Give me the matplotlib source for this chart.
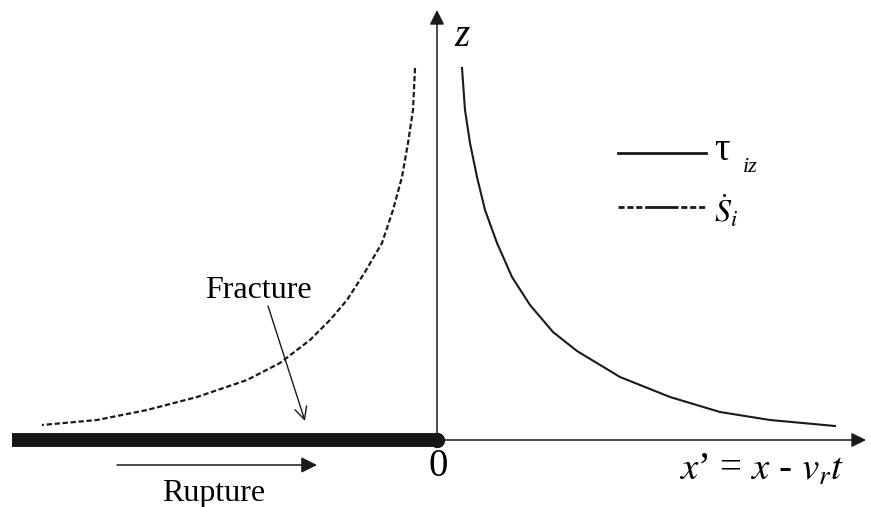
import numpy as np
import matplotlib.pyplot as plt

plt.rcParams['font.family'] = ['Liberation Serif', 'DejaVu Serif']
plt.rcParams['mathtext.fontset'] = 'stix'

# shear stress tau_iz ahead of the crack tip (x' > 0)
tau_x = [25, 28, 33, 40, 48, 60, 75, 93, 116, 140, 183, 233, 283, 333, 398]
tau_z = [372, 330, 297, 263, 230, 197, 163, 135, 108, 89, 63, 43, 28, 20, 14]

# slip rate S_i behind the crack tip (x' < 0)
slip_x = [-22, -24, -29, -35, -44, -55, -72, -90, -107, -127, -157,
          -190, -240, -290, -340, -395]
slip_z = [372, 330, 297, 263, 230, 197, 168, 140, 120, 100, 77,
          60, 43, 30, 20, 15]

# fractured part of the fault
fracture_x = [-425, 0]
fracture_z = [0, 0]

fig = plt.figure(figsize=(8.71, 5.07), dpi=100)
ax = fig.add_axes([0, 0, 1, 1])
ax.set_xlim(-437, 434)
ax.set_ylim(-67, 440)
ax.axis('off')

# axes with arrows
arr = dict(arrowstyle='-|>', color='#1a1a1a', lw=1.1, shrinkA=0, shrinkB=0,
           mutation_scale=22)
ax.annotate('', xy=(429, 0), xytext=(0, 0), arrowprops=arr)
ax.annotate('', xy=(0, 430), xytext=(0, 0), arrowprops=arr)

# curves
ax.plot(tau_x, tau_z, color='#1a1a1a', lw=1.5, solid_joinstyle='round')
ax.plot(slip_x, slip_z, color='#1a1a1a', lw=1.6, dashes=(2.4, 1.2))

# fracture bar
ax.plot(fracture_x, fracture_z, color='#161616', lw=10, solid_capstyle='butt')
ax.plot([fracture_x[1]], [fracture_z[1]], 'o', color='#161616', ms=10)

# legend
ax.plot([181, 269], [287, 287], color='#1a1a1a', lw=2)
ax.plot([181, 269], [233, 233], color='#1a1a1a', lw=2,
        dashes=(2.2, 1, 2.2, 1, 2.2, 1, 12, 1, 2.2, 1, 2.2, 1, 2.2, 1))
ax.text(285, 289, 'τ', fontsize=28, ha='center', va='center')
ax.text(313, 273, 'iz', fontsize=16, style='italic', ha='center', va='center')
ax.text(277, 228, r'$\dot{S}_{i}$', fontsize=23, ha='left', va='center')

# labels
ax.text(25, 404, 'z', fontsize=28, style='italic', ha='center', va='center')
ax.text(1, -27, '0', fontsize=28, ha='center', va='center')
ax.text(325, -30, r"$x$’ = $x$ - $v_rt$", fontsize=28, ha='center', va='center')

ax.text(-179, 150, 'Fracture', fontsize=23, ha='center', va='center')
ax.annotate('', xy=(-132, 19), xytext=(-169, 134),
            arrowprops=dict(arrowstyle='->', color='#1a1a1a', lw=1.0,
                            shrinkA=0, shrinkB=0, mutation_scale=22))

ax.annotate('', xy=(-120, -25), xytext=(-320, -25),
            arrowprops=dict(arrowstyle='-|>', color='#1a1a1a', lw=1.1,
                            shrinkA=0, shrinkB=0, mutation_scale=24))
ax.text(-223, -53, 'Rupture', fontsize=23, ha='center', va='center')

fig.savefig('out.png', dpi=100)
